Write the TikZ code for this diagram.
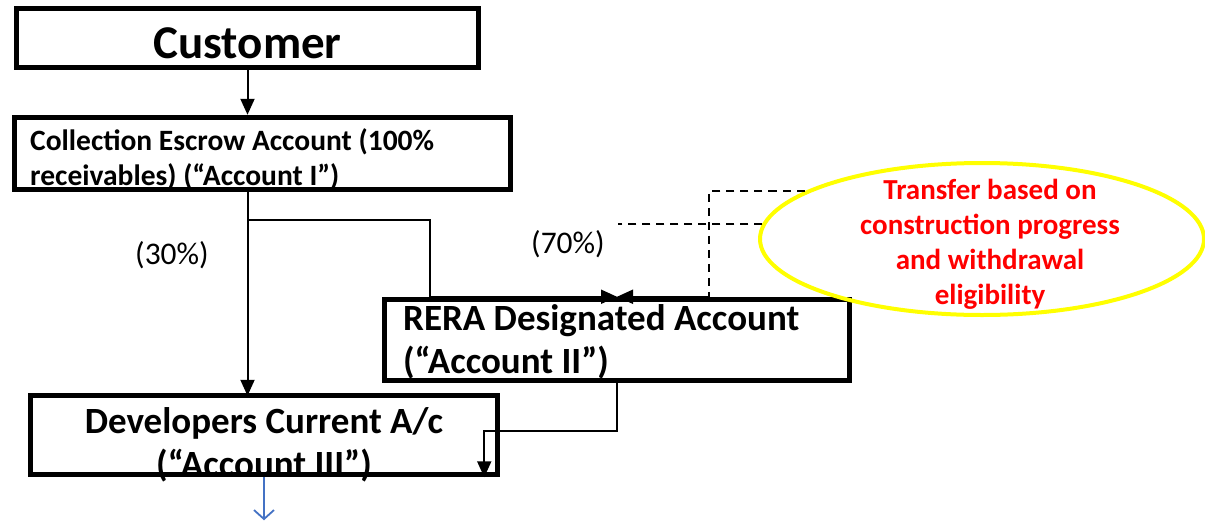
\documentclass[tikz,border=0pt]{standalone}
\usepackage{fontspec}
\setmainfont{Carlito}
\usetikzlibrary{arrows.meta,calc,shapes.geometric,positioning}
\definecolor{notered}{RGB}{255,0,0}
\definecolor{noteyellow}{RGB}{255,255,0}
\definecolor{flowblue}{RGB}{68,114,196}

\begin{document}
\begin{tikzpicture}[x=1pt,y=-1pt,
  acct/.style={draw, line width=5.5pt, rectangle, inner sep=0pt},
  txt/.style={inner sep=0pt, font=\fontsize{37}{43}\selectfont\bfseries},
  pct/.style={inner sep=0pt, font=\fontsize{31.5}{38}\selectfont},
  conn/.style={line width=2pt, -{Triangle[length=16pt,width=14pt]}},
  dashlink/.style={line width=2pt, dash pattern=on 8pt off 6pt}]
  \useasboundingbox (0,0) rectangle (1205,520);

  % Account boxes
  \node[acct, minimum width=462, minimum height=59, text height=40pt, text depth=0pt, font=\fontsize{47}{56}\selectfont\bfseries] (cust) at (247.5,38) {Customer};
  \node[acct, minimum width=496, minimum height=72] (coll) at (262.5,153.5) {};
  \node[acct, minimum width=465, minimum height=81] (rera) at (617,340) {};
  \node[acct, minimum width=467, minimum height=79] (dev) at (264,435) {};

  % Box texts (base = last line)
  \node[txt, font=\fontsize{29.5}{35}\selectfont\bfseries, align=left, anchor=base west] (colltxt) at (30,185) {Collection Escrow Account (100\%\\receivables) (“Account I”)};
  \node[txt, align=left, anchor=base west] (reratxt) at (403,373) {RERA Designated Account\\(“Account II”)};
  \node[txt, align=center, anchor=base] (devtxt) at (264,476) {Developers Current A/c\\(“Account III”)};

  % Note
  \node[ellipse, draw=noteyellow, line width=4pt, minimum width=444, minimum height=152, inner sep=0pt] (note) at (982,239) {};
  \node[inner sep=0pt, text=notered, align=center, font=\fontsize{29}{35}\selectfont\bfseries] (notetxt) at (990,244) {Transfer based on\\construction progress\\and withdrawal\\eligibility};

  % Shares
  \node[pct] (p30) at (172,255) {(30\%)};
  \node[pct] (p70) at (568,244) {(70\%)};

  % Flows
  \coordinate (split) at ($(coll.south -| cust.south)+(0,28)$);
  \coordinate (drop) at ($(rera.north)+(92,0)$);
  \coordinate (tap) at (618,225);
  \draw[conn] (cust.south) -- (cust.south |- coll.north);
  \draw[conn] (coll.south -| cust.south) -- ($(dev.north -| cust.south)+(0,3)$);
  \draw[conn] (split) -| ($(rera.north west)+(48,0)$) -- (rera.north);
  \draw[conn] (drop) -- (rera.north);
  \draw[conn] (rera.south) -- ++(0,48) -| ($(dev.south east)+(-16,0)$);
  \draw[flowblue, line width=1.8pt, -{Straight Barb[length=9pt,width=20pt]}] (dev.south) -- ++(0,43);

  % Dashed links to note
  \draw[dashlink] (note.165) -| (drop);
  \draw[dashlink] (note.176) -- (tap |- note.176);
\end{tikzpicture}
\end{document}
